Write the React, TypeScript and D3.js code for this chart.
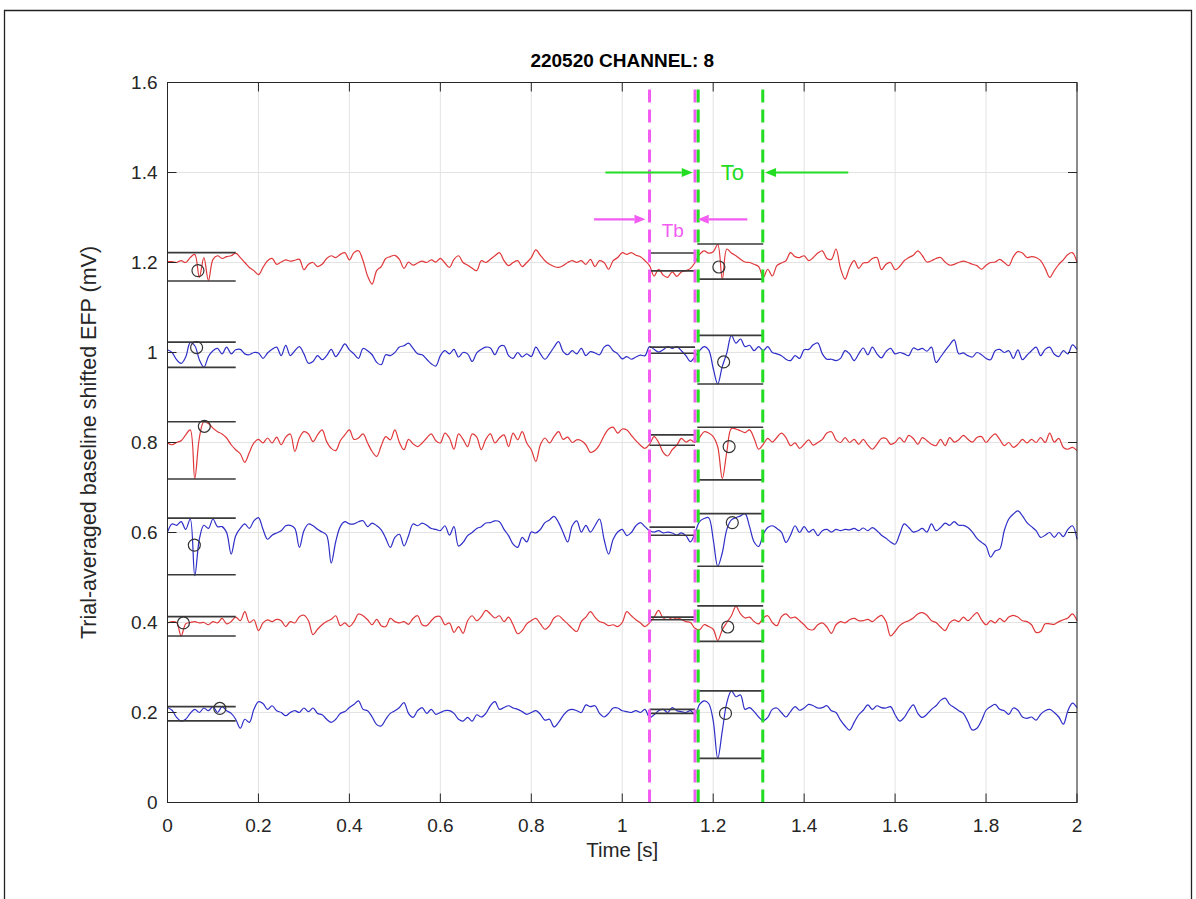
import React from "react";
import * as d3 from "d3";

// ---------- data ----------
const title = "220520 CHANNEL: 8";
const xLabel = "Time [s]";
const yLabel = "Trial-averaged baseline shifted EFP (mV)";
const xTicks = [0, 0.2, 0.4, 0.6, 0.8, 1, 1.2, 1.4, 1.6, 1.8, 2];
const yTicks = [0, 0.2, 0.4, 0.6, 0.8, 1, 1.2, 1.4, 1.6];
const sampleStep = 0.01; // seconds between samples

// trace baseline offsets (mV) and colours
const offsets = [1.2, 1.0, 0.8, 0.6, 0.4, 0.2];
const traceColors = ["#e0383a", "#2e2ec8", "#e0383a", "#2e2ec8", "#e0383a", "#2e2ec8"];

// deviations from each baseline, in µV, sampled every 10 ms from 0 to 2 s
const dev12 = [
  2, 2, 0, 4, 0, 11, 18, -33, 11, -40, 7, 15, 9, 13, 15, 21, 11, 0, -11, -18,
  -27, -11, 4, 9, -4, 1, 6, 3, 5, 7, -16, -4, 0, -9, -4, 9, 15, 11, 18, 22,
  6, 22, 26, 4, -30, -48, -18, -9, 9, 13, 16, 7, -13, 1, -6, -1, 3, 0, 6, 1,
  9, -1, -11, 7, 15, 0, -6, -13, -18, 4, 0, 7, 15, 22, 4, -7, 0, 4, -9, 0,
  11, 28, 16, 4, -4, -9, -11, -7, 0, 4, 0, 4, -4, 7, -9, 4, 0, -15, 4, 11,
  22, 18, 22, 16, 13, 4, -7, -30, -15, -28, -33, -21, -31, -21, -18, -13, 0, 18, 26, 21,
  24, 40, -37, 30, 21, 15, 7, 1, 0, -4, -9, -33, -15, -30, -7, -1, 4, 22, 13, 11,
  15, 4, 11, 21, 26, 9, 7, 30, -13, -37, -11, 4, -13, -1, 0, 9, 11, -16, -4, 0,
  -16, -9, 4, 11, 16, 26, 15, 1, 4, 9, 11, 1, -6, -4, 0, 3, 0, -4, -7, -15,
  -6, 0, 1, 7, 0, -7, 13, 24, 21, 11, 13, 11, 4, -13, -33, -18, -4, 6, 18, 22, 0,
];
const dev10 = [
  6, 0, -16, -24, -10, 22, 15, -16, -33, -9, 4, 9, -3, 12, -3, 6, 7, -3, -5, 0,
  -1, -13, -1, 7, 12, -7, 16, -7, 4, 13, -3, -24, -20, -7, -16, -7, 7, -9, 4, 19,
  6, -3, -13, 9, 4, -5, -22, -27, -5, -7, 0, 12, 15, 21, 9, -3, -5, -15, -25, -30,
  -7, 4, -3, 7, -10, 0, -3, -20, -1, 7, 12, 10, -5, 13, 15, -7, -13, 0, -10, -3,
  -9, 12, -3, -15, -3, 12, 24, 2, -5, 4, -3, 9, -7, 2, -1, -5, 12, 16, 4, -3,
  -14, -9, -15, -10, -6, -7, 13, 7, 1, 6, 13, 9, 13, 4, -7, -20, -9, 4, 13, 6,
  -35, -70, -31, -1, 38, 21, 30, 13, 16, 4, 13, 4, 13, 0, -3, -7, -15, -18, -7, -13,
  6, 7, 17, 21, -3, -15, -15, -18, -13, 4, -3, -18, -3, 10, -5, 12, -3, -12, 2, 9,
  -3, 0, -3, -7, 10, 6, 9, 3, 12, -22, -10, 4, 17, 28, -3, -1, -7, -10, 0, -5,
  -13, -16, 4, 7, 0, 4, -13, 6, -16, -6, 4, 12, -7, 7, 12, -4, -9, 4, -3, 17, 7,
];
const dev08 = [
  -1, -5, 0, 4, 17, 28, -80, 10, 46, 42, 32, 24, 19, 10, -5, -16, -25, -44, -22, -1,
  7, -1, 10, -1, 12, -5, 12, 19, -20, 10, 24, 19, 2, 17, 28, 2, -13, -18, 4, 17,
  28, 7, 10, 19, -1, -20, -31, -7, 13, 6, 28, 0, -16, 7, -3, -9, -1, 10, 19, 4,
  -1, 21, 10, -15, 19, 7, -9, 19, 12, -16, 7, 19, -1, 10, 17, -9, 21, 6, 24, -1,
  -16, -42, -5, 10, -1, 13, 24, 7, 12, 0, 6, 4, -5, -22, -18, -5, 15, 30, 34, 21,
  30, 28, 16, 4, -6, -13, -4, 13, 0, -22, -30, -16, -6, 9, 1, 6, 0, 11, 24, 21,
  13, -10, -80, -20, 31, 30, 26, 22, 28, 9, -15, -4, 9, 1, 11, 21, 11, -7, -1, -13,
  -4, 6, -6, 0, 7, 21, 24, 6, 0, 11, 0, 7, -4, 7, -6, -15, -4, 9, 9, -4,
  0, 11, 1, 16, 9, -4, 11, 4, -4, -7, 7, -7, 11, 1, 6, 16, 7, 1, 11, 13,
  0, 11, 19, 7, -7, 0, -11, -4, 7, -1, 7, 0, 11, 0, 21, 1, 9, -11, -15, -11, -18,
];
const dev06 = [
  1, 19, 16, 24, 7, 30, -96, -15, 16, 9, 30, 13, 13, 0, -48, -7, 9, 19, 9, 26,
  33, 7, -15, -6, -1, 4, 15, 16, 9, -33, 4, 19, 15, 7, 1, -6, -68, -20, 13, 24,
  19, 19, 24, 26, 13, 21, 15, 6, -13, -33, -11, -4, -30, -7, 19, 15, 21, 16, 9, 7,
  4, 15, -6, 13, -30, -22, -7, 0, 9, 13, 21, 22, 26, 24, 7, -7, -26, -33, -11, -21,
  1, -1, 7, 22, 28, 36, 22, 0, -21, 15, 26, 1, 16, 1, 15, 30, -15, -48, -15, 1,
  7, -7, 0, 15, 22, 13, 4, 1, 4, -1, 1, -1, -6, -1, -7, -21, -1, 24, 31, 33,
  -15, -75, -45, 7, 28, 33, 37, 42, 13, -21, -31, -4, 11, 15, 9, 1, -22, -6, 15, 0,
  13, 1, 7, -7, 4, 7, 1, 7, 4, 7, 6, 9, 4, 10, 4, 11, 4, -6, -13, -21,
  -26, -4, 19, 11, 1, 4, 9, 1, 19, 4, 11, 21, 16, 24, 16, 16, 11, 1, -13, -22,
  -30, -55, -41, -37, 4, 30, 41, 48, 37, 22, 13, 4, -11, -6, 0, -11, 0, -9, 7, 15, -15,
];
const dev04 = [
  -1, 2, 0, -30, -3, 0, 2, -1, 0, -5, 2, -1, 9, -3, 2, 12, 4, 24, 0, 6,
  -18, -1, 6, 2, 7, 4, -9, 2, -1, 13, 16, 4, -27, -15, -5, 2, 7, 15, -7, -1,
  -9, 2, 19, 15, 6, -5, 7, -7, -9, 9, 2, -1, 2, -4, 9, 15, -5, -7, 4, 13,
  13, -5, -1, -22, -9, -24, 4, 15, 4, 13, 27, 19, 10, 15, 2, 12, -5, -25, -18, -3,
  4, 9, -3, -15, -7, 10, 15, 6, -3, -13, -20, 2, 12, 24, 12, 2, -1, -7, -5, -9,
  0, 24, 15, 6, -1, -9, -1, 12, 27, 10, 12, 7, 10, 7, 2, 0, -13, -16, -5, -9,
  -15, -40, -16, 0, 15, 36, 19, 10, 12, 2, -3, 10, 15, 0, -7, 13, 19, 10, 12, 4,
  -5, -15, -16, -5, -1, -10, -24, -5, 2, -1, 6, 9, 4, 4, 7, 2, 10, 16, 2, -30,
  -20, -7, 0, 4, 10, 19, 22, 16, 4, 0, -10, -18, -1, 6, 2, 12, 4, 13, 22, 6,
  -5, 4, -1, 9, 2, 12, 16, 12, 4, 2, -5, -22, -20, -3, -3, -4, 2, 6, 10, 19, 4,
];
const dev02 = [
  11, 5, -11, -19, -15, -2, 7, 0, 10, 4, 13, 0, 13, 4, -2, -15, -35, -15, -22, 7,
  24, 20, 7, 15, 4, 0, -7, 0, 4, 0, 10, 2, 10, -2, -5, -15, -22, -15, -2, 2,
  11, 18, 26, 7, 4, -10, -27, -30, -15, -2, 4, 11, 22, -2, -11, 4, 11, -2, 7, -4,
  0, 4, 4, -2, -15, -19, -11, -19, -5, -10, -2, 15, 24, 7, 11, 15, 10, 7, 2, -4,
  0, 4, -4, -17, -15, -32, -22, -7, 4, 7, 4, 0, 17, 13, 15, -2, -10, -2, 10, 10,
  4, 2, 0, 4, 0, 7, -11, -5, 4, 7, 0, 11, 4, 2, 0, 4, -4, 18, 26, 20,
  -18, -102, -41, 22, 48, 35, 39, 7, 11, 2, -10, -18, -11, 7, 10, 0, -10, 2, 13, 5,
  10, 18, 15, 10, 11, 15, 4, 0, -17, -30, -39, -22, -5, 5, 17, 7, 15, 11, 10, 13,
  -5, -19, -11, 5, 17, -2, -11, -4, 7, 15, 27, 32, 18, 11, 4, -2, -20, -39, -35, -18,
  5, 13, 18, 7, 4, -4, 10, 5, -10, -13, -10, -17, -4, 4, 7, 0, -10, -26, 4, 21, 11,
];
const traceDevs = [dev12, dev10, dev08, dev06, dev04, dev02];

// analysis windows (s)
const window0 = [0, 0.15];
const windowTb = [1.06, 1.16];
const windowTo = [1.165, 1.31];

// bound lines per trace (mV): [upper, lower]
const bounds0 = [[1.222, 1.159], [1.023, 0.967], [0.846, 0.719], [0.632, 0.506], [0.413, 0.37], [0.213, 0.1815]];
const boundsTb = [[1.221, 1.1815], [1.012, 0.9985], [0.817, 0.794], [0.612, 0.594], [0.412, 0.406], [0.207, 0.198]];
const boundsTo = [[1.241, 1.163], [1.038, 0.93], [0.834, 0.717], [0.642, 0.525], [0.437, 0.358], [0.248, 0.098]];

// circle markers: [time, value]
const markers0 = [[0.067, 1.182], [0.064, 1.011], [0.081, 0.836], [0.059, 0.572], [0.035, 0.399], [0.115, 0.209]];
const markersTo = [[1.2125, 1.19], [1.223, 0.979], [1.235, 0.791], [1.242, 0.622], [1.232, 0.39], [1.227, 0.198]];

// vertical dashed markers (s)
const tbLines = [1.06, 1.16];
const toLines = [1.167, 1.309];

// annotation arrows: [from t, to t, level]
const toArrows = [[0.963, 1.155, 1.4], [1.497, 1.314, 1.4]];
const tbArrows = [[0.938, 1.051, 1.296], [1.275, 1.166, 1.296]];

// ---------- chart ----------
const W = 1196;
const H = 899;
const x = d3.scaleLinear().domain([0, 2]).range([167.5, 1077]);
const y = d3.scaleLinear().domain([0, 1.6]).range([802.5, 82.5]);

const MAGENTA = "#f25cf2";
const GREEN = "#22dd22";
const FONT = "'Liberation Sans', Arial, Helvetica, sans-serif";

function Arrow({ x1, x2, lv, color }: { x1: number; x2: number; lv: number; color: string }) {
  const px1 = x(x1);
  const px2 = x(x2);
  const py = y(lv);
  const dir = px2 > px1 ? 1 : -1;
  const hl = 11;
  const hw = 4.5;
  const head = `${px2},${py} ${px2 - dir * hl},${py - hw} ${px2 - dir * hl},${py + hw}`;
  return (
    <g>
      <line x1={px1} x2={px2 - dir * hl} y1={py} y2={py} stroke={color} strokeWidth={2.2} />
      <polygon points={head} fill={color} />
    </g>
  );
}

export default function App() {
  const line = d3
    .line<number>()
    .x((_, i) => x(i * sampleStep))
    .y((d) => y(d))
    .curve(d3.curveCatmullRom.alpha(0.5));

  const tickLen = 9;
  const [x0, x1] = x.range();
  const [yb, yt] = y.range();

  return (
    <svg
      width={W}
      height={H}
      viewBox={`0 0 ${W} ${H}`}
      style={{ position: "absolute", left: 0, top: 0, background: "#fff" }}
      fontFamily={FONT}
    >
      <rect x={0} y={0} width={W} height={H} fill="#fff" />
      {/* outer frame */}
      <path d={`M4.5,${H} V10.5 H1191.5 V${H}`} fill="none" stroke="#222" strokeWidth={1.3} />

      {/* grid */}
      <g stroke="#e3e3e3" strokeWidth={1}>
        {xTicks.map((t) => (
          <line key={"gx" + t} x1={x(t)} x2={x(t)} y1={yb} y2={yt} />
        ))}
        {yTicks.map((t) => (
          <line key={"gy" + t} x1={x0} x2={x1} y1={y(t)} y2={y(t)} />
        ))}
      </g>

      {/* traces */}
      {traceDevs.map((dev, k) => (
        <path
          key={"tr" + k}
          d={line(dev.map((v) => offsets[k] + v / 1000)) || ""}
          fill="none"
          stroke={traceColors[k]}
          strokeWidth={1.2}
          strokeLinejoin="round"
        />
      ))}

      {/* bound lines */}
      <g stroke="#3a3a3a" strokeWidth={1.6}>
        {[
          [window0, bounds0],
          [windowTb, boundsTb],
          [windowTo, boundsTo],
        ].map(([win, bnds], wi) =>
          (bnds as number[][]).map((b, k) =>
            b.map((v, j) => (
              <line
                key={`b${wi}-${k}-${j}`}
                x1={x((win as number[])[0])}
                x2={x((win as number[])[1])}
                y1={y(v)}
                y2={y(v)}
              />
            ))
          )
        )}
      </g>

      {/* circle markers */}
      <g fill="none" stroke="#333" strokeWidth={1.2}>
        {[...markers0, ...markersTo].map(([t, v], i) => (
          <circle key={"m" + i} cx={x(t)} cy={y(v)} r={6} />
        ))}
      </g>

      {/* dashed vertical lines */}
      {tbLines.map((t) => (
        <line key={"tb" + t} x1={x(t)} x2={x(t)} y1={yb} y2={yt} stroke={MAGENTA} strokeWidth={3} strokeDasharray="13 7" />
      ))}
      {toLines.map((t) => (
        <line key={"to" + t} x1={x(t)} x2={x(t)} y1={yb} y2={yt} stroke={GREEN} strokeWidth={3} strokeDasharray="13 7" />
      ))}

      {/* arrows + labels */}
      {toArrows.map(([a, b, lv], i) => (
        <Arrow key={"ta" + i} x1={a} x2={b} lv={lv} color={GREEN} />
      ))}
      {tbArrows.map(([a, b, lv], i) => (
        <Arrow key={"ba" + i} x1={a} x2={b} lv={lv} color={MAGENTA} />
      ))}
      <text x={x(1.242)} y={y(1.4)} dy="0.36em" textAnchor="middle" fontSize={22} fill={GREEN}>
        To
      </text>
      <text x={x(1.111)} y={y(1.272)} dy="0.36em" textAnchor="middle" fontSize={19} fill={MAGENTA}>
        Tb
      </text>

      {/* axes box */}
      <rect x={x0} y={yt} width={x1 - x0} height={yb - yt} fill="none" stroke="#262626" strokeWidth={1} />
      <g stroke="#262626" strokeWidth={1}>
        {xTicks.map((t) => (
          <g key={"xt" + t}>
            <line x1={x(t)} x2={x(t)} y1={yb} y2={yb - tickLen} />
            <line x1={x(t)} x2={x(t)} y1={yt} y2={yt + tickLen} />
          </g>
        ))}
        {yTicks.map((t) => (
          <g key={"yt" + t}>
            <line x1={x0} x2={x0 + tickLen} y1={y(t)} y2={y(t)} />
            <line x1={x1} x2={x1 - tickLen} y1={y(t)} y2={y(t)} />
          </g>
        ))}
      </g>

      {/* tick labels */}
      <g fill="#262626" fontSize={19}>
        {xTicks.map((t) => (
          <text key={"xl" + t} x={x(t)} y={yb + 23} dy="0.36em" textAnchor="middle">
            {d3.format("~g")(t)}
          </text>
        ))}
        {yTicks.map((t) => (
          <text key={"yl" + t} x={x0 - 10} y={y(t)} dy="0.36em" textAnchor="end">
            {d3.format("~g")(t)}
          </text>
        ))}
      </g>

      {/* axis labels + title */}
      <text x={(x0 + x1) / 2} y={yb + 47} dy="0.36em" textAnchor="middle" fontSize={20.5} fill="#262626">
        {xLabel}
      </text>
      <text
        transform={`translate(${x0 - 79},${(yb + yt) / 2}) rotate(-90)`}
        textAnchor="middle"
        dy="0.36em"
        fontSize={21.5}
        fill="#262626"
      >
        {yLabel}
      </text>
      <text x={(x0 + x1) / 2} y={yt - 22} dy="0.36em" textAnchor="middle" fontSize={19} fontWeight="bold" fill="#000">
        {title}
      </text>
    </svg>
  );
}
